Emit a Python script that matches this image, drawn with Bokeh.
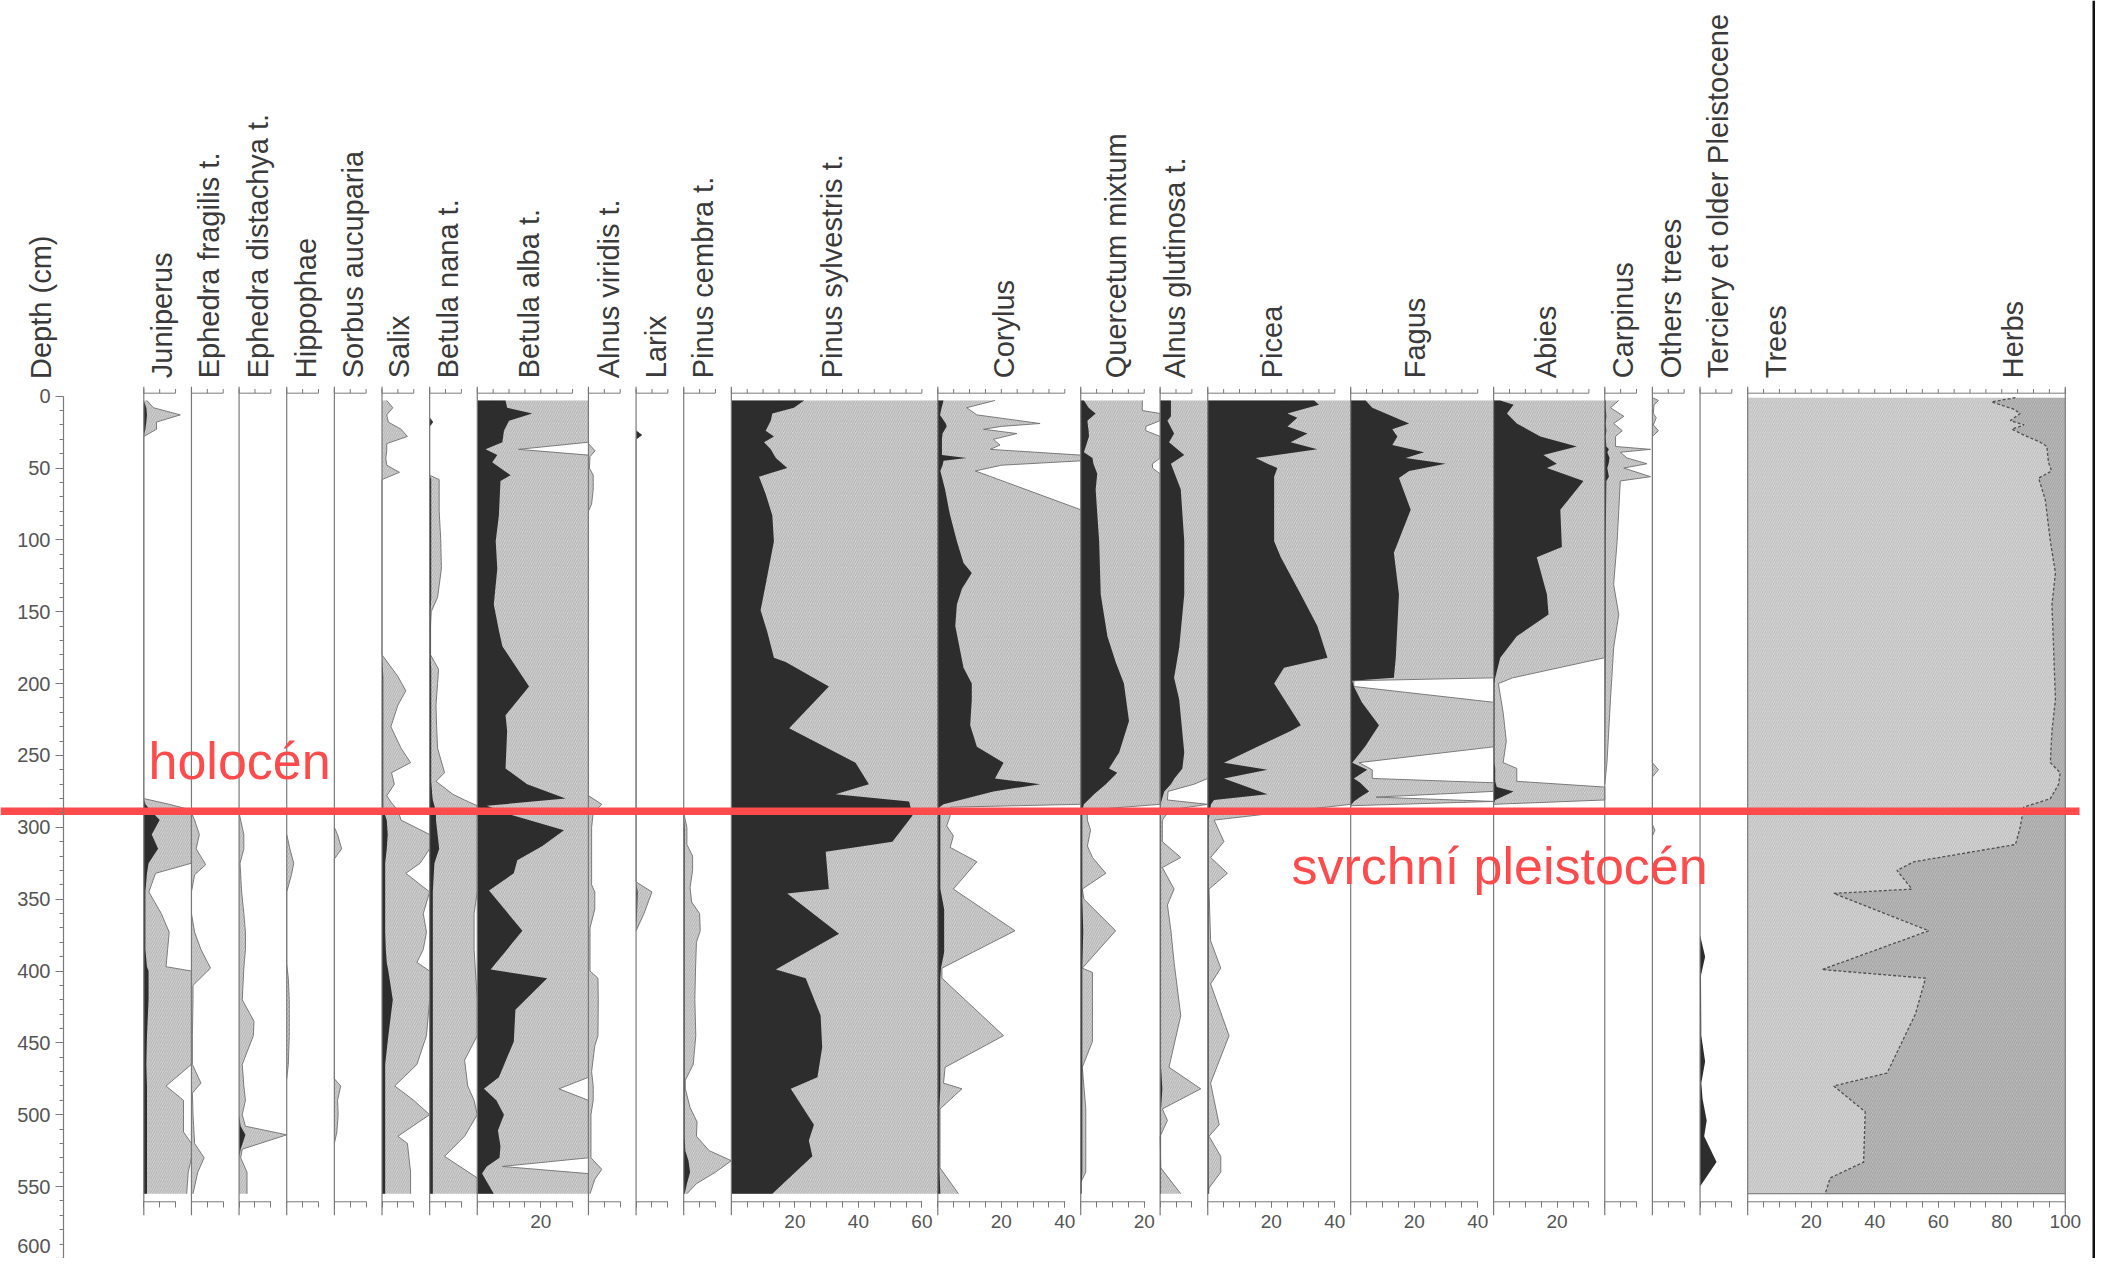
import math
from bokeh.plotting import figure
from bokeh.models import Range1d, LinearAxis, FixedTicker, Label
from bokeh.core.properties import value
from bokeh.embed import file_html
from bokeh.resources import INLINE

# ---------------- data (percent values) ----------------
taxa = ["Juniperus", "Ephedra fragilis t.", "Ephedra distachya t.", "Hippophae",
        "Sorbus aucuparia", "Salix", "Betula nana t.", "Betula alba t.",
        "Alnus viridis t.", "Larix", "Pinus cembra t.", "Pinus sylvestris t.",
        "Corylus", "Quercetum mixtum", "Alnus glutinosa t.", "Picea", "Fagus",
        "Abies", "Carpinus", "Others trees", "Terciery et older Pleistocene"]
panel_pct = [15, 15, 15, 15, 15, 15, 15, 35, 15, 15, 15, 65, 45, 25, 15, 45, 45, 35, 15, 15, 15, 100]

juniperus_depth = [3, 8, 13, 18, 23, 28, 280, 284, 288, 295, 305, 315, 325, 332, 345, 360, 373, 385, 397, 400, 420, 445, 465, 480, 490, 500, 512, 520, 530, 540, 555]
juniperus = [0, 0.8, 1, 0.8, 0.5, 0, 0, 0.5, 2, 5, 2.5, 4.5, 1.5, 1, 0.5, 0.5, 0.5, 0.5, 1, 1.5, 1.5, 1, 0.8, 1, 1, 1, 1, 1, 1, 1, 1]
juniperus_x = [1, 3, 11.5, 4, 4, 0, 0, 8, 15, 15, 15, 15, 15, 3.7, 1.6, 5.5, 8, 7.5, 7, 15, 15, 15, 15, 7, 12.5, 12.5, 12.5, 15, 15, 14, 13.5]

eph_frag_depth = [290, 295, 305, 315, 326, 333, 345, 360, 373, 385, 398, 410, 420, 445, 465, 478, 485, 500, 512, 520, 530, 540, 555]
eph_frag_x = [0, 1, 2.5, 1.5, 4.5, 1, 0, 0, 1, 3, 6, 0.5, 0.5, 0.3, 0.3, 3, 0.3, 0.5, 0.8, 1, 4, 2, 0.5]

eph_dist_depth = [290, 295, 305, 315, 325, 333, 345, 360, 373, 385, 398, 420, 435, 445, 465, 480, 490, 500, 508, 514, 524, 530, 540, 555]
eph_dist = [0, 0, 0, 0, 0, 0, 0, 0, 0, 0, 0, 0, 0, 0, 0, 0, 0, 0, 0.5, 2, 0.5, 0, 0, 0]
eph_dist_x = [0, 0.5, 1.5, 1.5, 0.3, 0.5, 0.8, 1.5, 2, 2, 1.5, 1, 4.7, 4.5, 1, 1.5, 2, 1, 2, 15, 1, 0.5, 2.5, 2.5]

hippophae_depth = [305, 315, 325, 333, 345, 395, 405, 420, 445, 465, 475]
hippophae_x = [0, 1, 2.2, 1.5, 0, 0, 0.5, 0.8, 0.8, 0.5, 0]

sorbus_depth = [300, 305, 315, 322, 475, 480, 490, 500, 512, 520]
sorbus_x = [0, 1, 2.3, 0, 0, 2, 1, 1.2, 0.8, 0]

salix_depth = [3, 8, 13, 18, 23, 28, 33, 38, 43, 48, 53, 58,
               180, 195, 205, 215, 230, 245, 255, 262, 270, 278, 283, 288,
               295, 305, 315, 325, 332, 345, 360, 373, 385, 394, 400, 420, 445, 465, 480, 490, 500, 515, 520, 530, 540, 555]
salix = [0, 0, 0, 0, 0, 0, 0, 0, 0, 0, 0, 0,
         0, 0.4, 0.4, 0.4, 0.4, 0.4, 0.4, 0.4, 0.4, 0.4, 0.4, 0.4,
         1.5, 1.8, 1.5, 1, 1, 1, 1, 1, 1.2, 1.5, 2, 3.4, 2, 1, 1, 1, 1, 1, 1, 1, 1, 1]
salix_x = [1.5, 3.4, 1.5, 2, 6, 8, 1.5, 1.5, 1.2, 1.5, 5.5, 0,
           0, 5, 7.5, 5, 2.8, 6, 9, 3, 3.9, 1.5, 3, 5,
           6, 15, 15, 12, 7.5, 15, 13, 14, 13, 11, 15, 15, 14, 11, 4, 10, 15, 5, 8, 8.5, 9, 9]

betula_nana_depth = [15, 18, 21, 55, 58, 80, 100, 120, 140, 150, 160, 180, 190, 200, 215, 230, 245, 262, 268, 277,
                     281, 285, 290, 295, 305, 315, 325, 345, 360, 385, 420, 445, 462, 480, 490, 500, 515, 529, 544, 555]
betula_nana = [0, 1, 0, 0, 0.5, 0.5, 0.5, 0.5, 0.5, 0.3, 0.3, 0.3, 0.5, 0.5, 0.5, 0.5, 0.5, 0.5, 0.5, 0.8,
               1, 1.5, 2, 2, 2.5, 3, 1.5, 1, 1, 1, 1, 1, 1, 1, 1, 1, 1, 1, 1, 1]
betula_nana_x = [0, 1, 0, 0, 3, 3, 3.5, 3.7, 2.5, 0.5, 0.3, 0.3, 2.8, 2.5, 2, 2.2, 2.5, 4.7, 2, 7.3,
                 11, 15, 15, 15, 15, 15, 15, 15, 14, 14, 15, 15, 11, 12, 14, 15, 11, 4.7, 15, 15]

betula_alba_depth = [3, 8, 12, 17, 24, 32, 37, 41, 46, 51, 55, 59, 83, 101, 120, 145, 163, 174, 202, 222,
                     233, 259, 270, 280, 285, 291, 302, 313, 323, 332, 344, 372, 399, 405, 427, 449, 474, 482, 490, 500,
                     511, 522, 530, 536, 541, 555]
betula_alba = [8.9, 9.4, 17.3, 10, 8.4, 7.9, 2.6, 6.3, 4.7, 7.9, 10.5, 7.3, 6.8, 5.8, 6.3, 5.2, 6.8, 7.9, 16.3, 8.9,
               9.4, 8.9, 15.7, 27.8, 3, 10, 27.3, 20.5, 12.6, 11.5, 3.7, 14.2, 4.2, 22, 12, 11.5, 6.8, 2.1, 6, 8.4,
               6.5, 7.3, 7, 3, 1.5, 5.2]
betula_alba_x = [35, 35, 35, 35, 35, 35, 13, 35, 35, 35, 35, 35, 35, 35, 35, 35, 35, 35, 35, 35,
                 35, 35, 35, 35, 35, 35, 35, 35, 35, 35, 35, 35, 35, 35, 35, 35, 35, 25.7, 35, 35,
                 35, 35, 35, 7.9, 35, 35]

alnus_vir_depth = [33, 38, 42, 50, 55, 65, 75, 80, 278, 284, 290, 300, 320, 340, 345, 357, 370, 400, 405, 420,
                   445, 452, 470, 480, 490, 500, 530, 538, 545, 555]
alnus_vir_x = [0, 2.1, 0.5, 0.3, 1.5, 1.5, 1, 0, 0, 4.2, 1.5, 1, 1, 1, 2, 2, 0.5, 0.5, 3, 3.1,
               3, 2, 1, 1.5, 1.5, 0.8, 0.8, 4.2, 2, 0.5]

larix_depth = [24, 27, 30, 338, 345, 360, 372]
larix = [0, 1.8, 0, 0, 0.5, 0.3, 0]
larix_x = [0, 1.8, 0, 0, 5, 2.5, 0]

pinus_cem_depth = [290, 300, 312, 320, 330, 342, 352, 360, 372, 380, 400, 420, 445, 465, 476, 482, 495, 505, 515, 525, 532, 540, 548, 555]
pinus_cem = [0, 0.3, 0.3, 0.3, 0.3, 0.3, 0.3, 0.3, 0.3, 0.3, 0.3, 0.3, 0.3, 0.3, 0.3, 0.3, 0.3, 0.3, 0.3, 0.5, 1.5, 2, 1, 0.3]
pinus_cem_x = [0, 1, 1, 2.8, 2.8, 2, 2.5, 5, 5.2, 4, 3.7, 3.5, 3.8, 3, 0.5, 0.5, 2, 4.2, 4, 8, 15, 10, 4, 1]

pinus_syl_depth = [3, 8, 12, 17, 24, 28, 32, 37, 43, 50, 56, 68, 83, 101, 131, 149, 164, 182, 185, 202,
                   231, 255, 270, 277, 282, 292, 310, 317, 343, 346, 374, 399, 405, 431, 453, 474, 482, 507, 518, 529, 555]
pinus_syl = [22.9, 19.7, 12.9, 12.4, 10.8, 13.4, 10.3, 12.4, 14, 17.6, 8.7, 10.8, 12.9, 13.4, 10.8, 9.2, 11.3, 13.4, 17.1, 30.7,
             18.2, 39.1, 43.3, 32.8, 56, 57, 50.7, 29.7, 30.7, 17.6, 33.9, 14, 23.4, 28.1, 28.6, 27.1, 18.7, 26, 24.4, 25.5, 12.9]
pinus_syl_x = [65, 65, 65, 65, 65, 65, 65, 65, 65, 65, 65, 65, 65, 65, 65, 65, 65, 65, 65, 65,
               65, 65, 65, 65, 65, 65, 65, 65, 65, 65, 65, 65, 65, 65, 65, 65, 65, 65, 65, 65, 65]

corylus_depth = [3, 8, 13, 19, 21, 23, 26, 30, 34, 37, 41, 43, 45, 48, 52, 65, 79, 83, 101, 116,
                 123, 134, 145, 160, 189, 200, 211, 229, 244, 255, 266, 270, 275, 284, 286, 292, 299, 306, 314, 324,
                 343, 357, 372, 387, 398, 405, 445, 467, 478, 482, 496, 537, 555]
corylus = [1.8, 1.2, 0.7, 2.5, 2.8, 2.3, 1.5, 1.3, 1.3, 1.3, 1.3, 9.1, 1.8, 1.5, 0.8, 2.3, 3.5, 3.9, 6, 8.1,
           10.7, 7.6, 6, 5.5, 8.1, 10.7, 10.7, 10.2, 12.3, 20.7, 18, 32.2, 17.5, 1.8, 0.5, 0.8, 0.8, 0.8, 0.8, 0.8,
           0.8, 2, 2, 2, 1, 0.8, 0.8, 0.8, 0.8, 0.8, 0.5, 0.5, 0.8]
corylus_x = [18, 9.1, 12.3, 32.2, 20, 14.4, 24.9, 17.5, 19.6, 16.5, 45, 45, 45, 20.1, 11.8, 27.8, 45, 45, 45, 45,
             45, 45, 45, 45, 45, 45, 45, 45, 45, 45, 45, 45, 45, 45, 4, 3.9, 2.8, 4.9, 3.9, 12.3,
             4.9, 14.3, 24.3, 11, 1.3, 1.3, 20.7, 2.3, 1.8, 7.6, 0.7, 0.7, 6.5]

querc_depth = [3, 8, 10, 12, 17, 21, 24, 28, 39, 43, 47, 50, 54, 65, 101, 138, 167, 185, 200, 226,
               248, 259, 262, 270, 277, 284, 288, 295, 302, 313, 321, 332, 343, 350, 372, 398, 401, 449, 467, 496,
               540, 547, 555]
querc = [1, 2.5, 3.5, 4.7, 2.1, 2.3, 2.5, 2.6, 1, 3.7, 4, 4.5, 5.2, 4.7, 5.8, 6.3, 8.4, 11, 13.6, 15.2,
         12.1, 8.9, 11.5, 7.9, 4.2, 1, 0.5, 0.5, 0.5, 0.5, 0.5, 0.5, 0.5, 0.5, 0.8, 0.5, 0.5, 0.5, 0.5, 0.5,
         0.5, 0.3, 0.3]
querc_x = [19.4, 19.4, 19.4, 25, 25, 20.5, 20.5, 25, 25, 25, 22.6, 22.6, 25, 25, 25, 25, 25, 25, 25, 25,
           25, 25, 25, 25, 25, 25, 2, 2.1, 3.1, 2.1, 3.7, 7.9, 0.5, 1, 11, 0.5, 3.7, 3.7, 0.5, 1.6,
           1.6, 0, 0]

alnus_glu_depth = [3, 14, 17, 26, 32, 41, 47, 65, 101, 138, 175, 196, 211, 248, 259, 266, 270, 275, 281, 284,
                   288, 295, 310, 321, 328, 343, 354, 372, 394, 431, 467, 482, 496, 504, 515, 537, 555]
alnus_glu = [3.4, 3.4, 2.3, 4.4, 2.8, 7.6, 3.4, 6.5, 7.6, 7.6, 6, 4.4, 6, 7.6, 7, 4.5, 3.4, 1.3, 0.5, 0.2,
             0.2, 0.3, 0.3, 0.3, 0.3, 0.3, 0.3, 0.3, 0.3, 0.3, 0.3, 0.7, 0.3, 0.3, 0.3, 0.3, 0.3]
alnus_glu_x = [15, 15, 15, 15, 15, 15, 15, 15, 15, 15, 15, 15, 15, 15, 15, 15, 10.7, 2.5, 2.3, 15,
               3, 0.7, 0.7, 6.5, 0.7, 4.4, 2.3, 3.4, 4.4, 6.5, 2.8, 12.8, 0.7, 2.3, 0, 0.2, 6.5]

picea_depth = [3, 6, 12, 15, 21, 26, 32, 37, 43, 47, 50, 56, 101, 112, 138, 160, 182, 189, 200, 229,
               233, 255, 260, 266, 277, 281, 284, 295, 310, 321, 332, 343, 379, 398, 409, 445, 478, 507, 515, 529,
               540, 551, 555]
picea = [33.5, 35, 25.1, 28.2, 25.1, 31.4, 26.1, 34.5, 15.1, 18.8, 21.9, 20.9, 20.9, 23, 29.3, 34.5, 37.7, 24, 20.9, 29.3,
         26.1, 5.1, 18.8, 5.1, 18.8, 2, 1, 0.3, 0.3, 0.3, 0.3, 0.3, 0.3, 0.3, 0.3, 0.3, 0.3, 0.3, 0.3, 0.3,
         0.3, 0.3, 0.3]
picea_x = [45, 45, 45, 45, 45, 45, 45, 45, 45, 45, 45, 45, 45, 45, 45, 45, 45, 45, 45, 45,
           45, 45, 45, 45, 45, 45, 45, 2, 5.1, 0.9, 6.2, 0.4, 0.9, 4.1, 0.9, 6.7, 0.9, 3.6, 0.4, 4.1,
           4.1, 0.4, 0.3]

fagus_depth = [3, 8, 19, 23, 28, 34, 39, 43, 47, 52, 57, 79, 109, 138, 182, 196, 198, 202, 213, 229,
               244, 255, 260, 266, 269, 275, 279, 282, 285]
fagus = [4.7, 6.8, 18.4, 13.1, 14.7, 13.1, 23.1, 17.3, 29.9, 18.4, 15.2, 18.9, 13.6, 15.2, 14.2, 13.6, 0.5, 1, 3.5, 8.9,
         4.5, 0.5, 5.2, 1, 3, 5.8, 3, 1, 0]
fagus_x = [45, 45, 45, 45, 45, 45, 45, 45, 45, 45, 45, 45, 45, 45, 45, 45, 1, 1, 45, 45,
           45, 2.6, 6.8, 6.8, 45, 45, 8, 45, 0]

abies_depth = [3, 6, 12, 19, 28, 35, 41, 47, 50, 59, 79, 105, 112, 138, 152, 167, 182, 196, 200, 220,
               240, 255, 259, 268, 272, 275, 281, 284]
abies = [2.1, 6.3, 4.2, 7.3, 14.7, 26.2, 15.7, 19.9, 16.8, 28.3, 21, 21.5, 13.6, 16.8, 17.3, 7.3, 2.1, 0.5, 0.3, 0.3,
         0.3, 0.3, 0.5, 0.5, 1, 6.3, 0.5, 0]
abies_x = [35, 35, 35, 35, 35, 35, 35, 35, 35, 35, 35, 35, 35, 35, 35, 35, 35, 6, 1.5, 3,
           4, 3, 7.3, 7.3, 35, 35, 35, 0]

carpinus_depth = [3, 8, 14, 19, 24, 28, 35, 37, 39, 43, 47, 50, 56, 59, 101, 131, 152, 175, 211, 255, 270]
carpinus = [0.3, 0.3, 0.5, 0.3, 0.5, 0.3, 0.5, 1.3, 0.8, 1.5, 1.2, 0.8, 1.3, 0.5, 0.3, 0.3, 0.3, 0.3, 0.2, 0.1, 0]
carpinus_x = [4.4, 1.8, 6, 2.8, 5.5, 3.4, 3.4, 14.4, 4.9, 7, 13.3, 6, 14.4, 4.9, 3.9, 2.8, 4.4, 2.8, 1.8, 0.7, 0]

others_depth = [1, 3, 6, 12, 15, 20, 24, 28, 255, 260, 265, 298, 302, 306]
others_x = [0, 1.9, 0.5, 0.3, 1.2, 0.3, 1.9, 0, 0, 1.9, 0, 0, 0.8, 0]

terciery_depth = [375, 390, 403, 445, 463, 478, 489, 504, 515, 533, 550]
terciery = [0, 1.6, 0.3, 0.4, 1.6, 0.4, 0.8, 2.1, 1.3, 5.2, 0]

trees_depth = [1, 4, 9, 12, 17, 20, 23, 28, 32, 35, 46, 52, 57, 72, 101, 123, 145, 174, 211, 233,
               255, 262, 270, 280, 286, 300, 312, 324, 330, 343, 346, 372, 399, 405, 430, 471, 480, 498, 533, 544, 555]
trees = [84.3, 76.8, 83.7, 85.8, 82.7, 87, 83.2, 87.9, 92.1, 94.2, 94.7, 95.7, 91.6, 93.7, 95.3, 96.9, 95.8, 96.3, 96.9, 95.8,
         95.3, 98.4, 97.9, 95.3, 86.9, 85.8, 84.3, 52.3, 47, 51.7, 27.1, 57, 23.4, 56, 52.8, 43.9, 27.1, 37, 36.5, 26, 24.4]

depth_ticks = list(range(0, 551, 50))

# ---------------- layout / style ----------------
PX = 3.176          # screen pixels per percent unit
ORIGIN = 143.3      # screen x of the first panel
DEPTH0 = 395.7      # screen y of depth 0
PXD = 1.437         # screen pixels per cm of depth
W, H = 2095, 1258

def ux(px):
    return (px - ORIGIN) / PX

def uy(py):
    return (py - DEPTH0) / PXD

BLACK = "#2d2d2d"
GREY = "#d3d3d3"
HATCH = "#939393"
EDGE = "#707070"
AXIS = "#7a7a7a"
TEXT = "#3a3a3a"
RED = "#ff4b4b"
FONT = "Liberation Sans"

p = figure(width=W, height=H, output_backend="svg", toolbar_location=None,
           x_range=Range1d(ux(0), ux(W)), y_range=Range1d(uy(H), uy(0)),
           x_axis_location=None, y_axis_location=None, min_border=0)
p.outline_line_color = None
p.xgrid.visible = False
p.ygrid.visible = False

starts = []
acc = 0
for w in panel_pct:
    starts.append(acc)
    acc += w
end_all = acc

series = [
    (juniperus_depth, juniperus, juniperus_x),
    (eph_frag_depth, None, eph_frag_x),
    (eph_dist_depth, eph_dist, eph_dist_x),
    (hippophae_depth, None, hippophae_x),
    (sorbus_depth, None, sorbus_x),
    (salix_depth, salix, salix_x),
    (betula_nana_depth, betula_nana, betula_nana_x),
    (betula_alba_depth, betula_alba, betula_alba_x),
    (alnus_vir_depth, None, alnus_vir_x),
    (larix_depth, larix, larix_x),
    (pinus_cem_depth, pinus_cem, pinus_cem_x),
    (pinus_syl_depth, pinus_syl, pinus_syl_x),
    (corylus_depth, corylus, corylus_x),
    (querc_depth, querc, querc_x),
    (alnus_glu_depth, alnus_glu, alnus_glu_x),
    (picea_depth, picea, picea_x),
    (fagus_depth, fagus, fagus_x),
    (abies_depth, abies, abies_x),
    (carpinus_depth, carpinus, carpinus_x),
    (others_depth, None, others_x),
    (terciery_depth, terciery, None),
]

hatch_kw = dict(hatch_pattern="/", hatch_color=HATCH, hatch_scale=4.5, hatch_weight=0.6)

for s, (d, blk, ex) in zip(starts, series):
    if ex is not None:
        x2 = [s + v for v in ex]
        p.harea(x1=[s] * len(d), x2=x2, y=d, fill_color=GREY, **hatch_kw)
        p.line(x=x2, y=d, line_color=EDGE, line_width=0.9)
    if blk is not None:
        p.harea(x1=[s] * len(d), x2=[s + v for v in blk], y=d, fill_color=BLACK)

# Trees / Herbs cumulative panel
ts = starts[-1]
tx = [ts + v for v in trees]
p.harea(x1=[ts] * len(trees_depth), x2=tx, y=trees_depth, fill_color="#d6d6d6",
        hatch_pattern="/", hatch_color="#a4a4a4", hatch_scale=4.5, hatch_weight=0.6)
p.harea(x1=tx, x2=[ts + 100] * len(trees_depth), y=trees_depth, fill_color="#bcbcbc",
        hatch_pattern="/", hatch_color="#8a8a8a", hatch_scale=4.5, hatch_weight=0.6)
p.line(x=tx, y=trees_depth, line_color="#505050", line_width=1.3, line_dash="3 2")
p.segment(x0=[ts], x1=[ts + 100], y0=[555], y1=[555], line_color=EDGE, line_width=1)

# panel frame lines
edges = starts + [end_all]
p.segment(x0=edges, x1=edges, y0=[-6.5] * len(edges), y1=[570] * len(edges),
          line_color=AXIS, line_width=1.2)

# per-panel scale lines (top and bottom) and top ticks
scale_len = [(w // 10) * 10 for w in panel_pct]
p.segment(x0=starts, x1=[s + l for s, l in zip(starts, scale_len)], y0=[-2.1] * len(starts),
          y1=[-2.1] * len(starts), line_color=AXIS, line_width=1)
p.segment(x0=starts, x1=[s + l for s, l in zip(starts, scale_len)], y0=[560.6] * len(starts),
          y1=[560.6] * len(starts), line_color=AXIS, line_width=1)

minor_pos = []
major_pos = []
overrides = {}
for s, l, w in zip(starts, scale_len, panel_pct):
    for k in range(0, l + 1, 5):
        minor_pos.append(s + k)
    if w >= 25:
        for k in range(20, l + 1, 20):
            major_pos.append(s + k)
            overrides[s + k] = str(k)

p.segment(x0=minor_pos, x1=minor_pos, y0=[-2.1] * len(minor_pos), y1=[-5.0] * len(minor_pos),
          line_color=AXIS, line_width=1)

bottom = LinearAxis(fixed_location=560.6, ticker=FixedTicker(ticks=major_pos, minor_ticks=minor_pos),
                    major_label_overrides=overrides)
bottom.axis_line_color = None
bottom.major_tick_line_color = AXIS
bottom.minor_tick_line_color = AXIS
bottom.major_tick_out = 6
bottom.major_tick_in = 0
bottom.minor_tick_out = 6
bottom.minor_tick_in = 0
bottom.major_label_standoff = 7
bottom.major_label_text_font = FONT
bottom.major_label_text_font_size = "19px"
bottom.major_label_text_color = "#555555"
p.add_layout(bottom, "below")

left = LinearAxis(fixed_location=ux(63), bounds=(0, 600),
                  ticker=FixedTicker(ticks=depth_ticks, minor_ticks=list(range(0, 601, 10))))
left.axis_line_color = AXIS
left.axis_line_width = 1.2
left.major_tick_line_color = AXIS
left.minor_tick_line_color = AXIS
left.major_tick_out = 8
left.major_tick_in = 0
left.minor_tick_out = 4
left.minor_tick_in = 0
left.major_label_standoff = 5
left.major_label_text_font = FONT
left.major_label_text_font_size = "20px"
left.major_label_text_color = "#555555"
p.add_layout(left, "left")
# last depth tick (600) sits at the bottom edge: label placed just above it
p.segment(x0=[ux(55)], x1=[ux(63)], y0=[600], y1=[600], line_color=AXIS, line_width=1)
p.add_layout(Label(x=ux(50), y=596, text="600", text_align="right", text_baseline="bottom",
                   text_font=FONT, text_font_size="20px", text_color="#555555"))

# column titles
title_text = taxa + ["Trees", "Herbs"]
title_offset = [5.6, 5.4, 5.8, 6.2, 6.0, 5.2, 5.9, 16.4, 6.6, 6.4, 6.2, 31.8, 21.0, 11.0, 4.8, 20.1, 20.1,
                16.4, 5.6, 6.0, 5.8, 8.8, 83.4]
title_base = starts + [starts[-1]]
p.text(x=[b + o for b, o in zip(title_base, title_offset)], y=[-12.5] * len(title_text), text=title_text,
       angle=math.pi / 2, text_align="left", text_baseline="middle",
       text_font=value(FONT), text_font_size="29px", text_color=TEXT)

p.add_layout(Label(x=ux(40), y=-12.0, text="Depth (cm)", angle=math.pi / 2, text_align="left",
                   text_baseline="middle", text_font=FONT, text_font_size="29px", text_color=TEXT))

# boundary between Holocene and Upper Pleistocene
p.segment(x0=[ux(0)], x1=[ux(2079)], y0=[288.8], y1=[288.8], line_color=RED, line_width=7.5)
p.add_layout(Label(x=ux(148), y=254, text="holocén", text_align="left", text_baseline="alphabetic",
                   text_font=FONT, text_font_size="52px", text_color=RED))
p.add_layout(Label(x=ux(1291), y=327, text="svrchní pleistocén", text_align="left",
                   text_baseline="alphabetic", text_font=FONT, text_font_size="52px", text_color=RED))

# scan border on the right
p.segment(x0=[ux(2093.5)], x1=[ux(2093.5)], y0=[uy(0)], y1=[uy(H)], line_color="#111111", line_width=3)

open("out.html", "w").write(file_html(p, INLINE))
